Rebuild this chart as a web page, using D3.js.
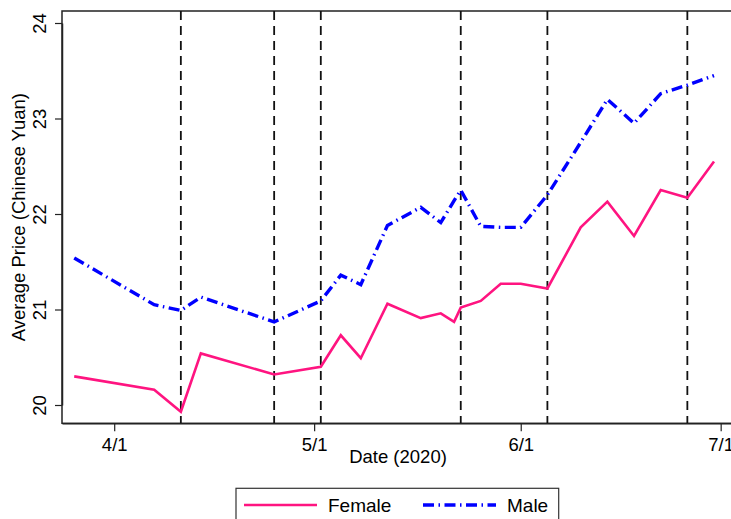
<!DOCTYPE html>
<html>
<head>
<meta charset="utf-8">
<script src="https://cdn.jsdelivr.net/npm/d3@7/dist/d3.min.js"></script>
<style>
  html, body { margin: 0; padding: 0; background: #fff; }
  svg { display: block; font-family: "Liberation Sans", Arial, Helvetica, sans-serif; }
</style>
</head>
<body>
<svg id="chart" width="731" height="519"></svg>
<script>
// Survey dates (2020) shared by both series
const dates = ["2020-03-26","2020-04-07","2020-04-11","2020-04-14","2020-04-25","2020-05-02",
  "2020-05-05","2020-05-08","2020-05-12","2020-05-17","2020-05-20","2020-05-22","2020-05-23",
  "2020-05-26","2020-05-29","2020-06-01","2020-06-05","2020-06-10","2020-06-14","2020-06-18",
  "2020-06-22","2020-06-26","2020-06-30"];

// Average price, Chinese Yuan
const female = [20.30,20.16,19.93,20.54,20.32,20.40,20.73,20.49,21.06,20.91,20.96,20.87,21.02,
  21.09,21.27,21.27,21.22,21.86,22.13,21.77,22.25,22.17,22.55];
const male = [21.54,21.05,20.99,21.13,20.87,21.09,21.36,21.26,21.88,22.07,21.91,22.14,22.25,
  21.87,21.86,21.86,22.20,22.75,23.20,22.95,23.26,23.35,23.45];

// Dates marked with vertical reference lines
const eventDates = ["2020-04-11","2020-04-25","2020-05-02","2020-05-23","2020-06-05","2020-06-26"];

// Axis ticks
const xTickDates = ["2020-04-01","2020-05-01","2020-06-01","2020-07-01"];
const xTickLabels = ["4/1","5/1","6/1","7/1"];
const yTicks = [20, 21, 22, 23, 24];

const seriesNames = ["Female", "Male"];
const seriesColors = ["#ff1480", "#0000ff"];

const parse = d3.timeParse("%Y-%m-%d");
const svg = d3.select("#chart");
const fontSize = 18.5;

const plotLeft = 62, plotRight = 734;
const x = d3.scaleTime()
  .domain([new Date(2020, 2, 24, 4), new Date(2020, 6, 3)])
  .range([plotLeft, plotRight]);
const y = d3.scaleLinear().domain([20, 24]).range([405, 23]);
const plotTop = 11, plotBottom = 423.3;

// Plot region outline
svg.append("rect")
  .attr("x", plotLeft).attr("y", plotTop)
  .attr("width", plotRight - plotLeft).attr("height", plotBottom - plotTop)
  .attr("fill", "none").attr("stroke", "#222").attr("stroke-width", 1.5);

// Vertical dashed reference lines
svg.append("g").selectAll("line")
  .data(eventDates.map(parse))
  .join("line")
  .attr("x1", d => x(d)).attr("x2", d => x(d))
  .attr("y1", plotTop).attr("y2", plotBottom)
  .attr("stroke", "#111").attr("stroke-width", 1.8)
  .attr("stroke-dasharray", "9,6");

// Series lines
const rows = dates.map((d, i) => ({ date: parse(d), female: female[i], male: male[i] }));
const line = key => d3.line().x(d => x(d.date)).y(d => y(d[key]))(rows);

svg.append("path").attr("d", line("female"))
  .attr("fill", "none").attr("stroke", seriesColors[0]).attr("stroke-width", 2.6)
  .attr("stroke-linejoin", "miter");
svg.append("path").attr("d", line("male"))
  .attr("fill", "none").attr("stroke", seriesColors[1]).attr("stroke-width", 3.4)
  .attr("stroke-dasharray", "11,4.5,1.5,4.5");

// X axis
const xAxis = svg.append("g")
  .attr("transform", `translate(0,${plotBottom})`)
  .call(d3.axisBottom(x)
    .tickValues(xTickDates.map(parse))
    .tickFormat((d, i) => xTickLabels[i])
    .tickSize(8).tickSizeOuter(0).tickPadding(7));
xAxis.select(".domain").attr("stroke", "#222").attr("stroke-width", 1.5);
xAxis.selectAll(".tick line").attr("stroke", "#222").attr("stroke-width", 1.2);
xAxis.selectAll("text").attr("font-size", fontSize).attr("fill", "#000")
  .attr("font-family", "Liberation Sans, Arial, sans-serif");

// Y axis, labels rotated
const yAxis = svg.append("g")
  .attr("transform", `translate(${plotLeft},0)`)
  .call(d3.axisLeft(y).tickValues(yTicks).tickFormat(d3.format("d"))
    .tickSize(7).tickSizeOuter(0));
yAxis.select(".domain").attr("stroke", "#222").attr("stroke-width", 1.5);
yAxis.selectAll(".tick line").attr("stroke", "#222").attr("stroke-width", 1.2);
yAxis.selectAll("text")
  .attr("font-size", fontSize).attr("fill", "#000")
  .attr("font-family", "Liberation Sans, Arial, sans-serif")
  .attr("x", null).attr("dy", null)
  .attr("text-anchor", "middle")
  .attr("transform", "translate(-16,0) rotate(-90)");

// Axis titles
svg.append("text")
  .attr("x", (plotLeft + plotRight) / 2).attr("y", 463)
  .attr("text-anchor", "middle").attr("font-size", fontSize).text("Date (2020)");
svg.append("text")
  .attr("transform", `translate(25,${(plotTop + plotBottom) / 2}) rotate(-90)`)
  .attr("text-anchor", "middle").attr("font-size", fontSize).text("Average Price (Chinese Yuan)");

// Legend
const legend = svg.append("g");
legend.append("rect")
  .attr("x", 236).attr("y", 488.3).attr("width", 322.7).attr("height", 60)
  .attr("fill", "#fff").attr("stroke", "#333").attr("stroke-width", 1.2);
const legendItems = [
  { name: seriesNames[0], color: seriesColors[0], x0: 244, x1: 317, tx: 328, dash: null, w: 2.6 },
  { name: seriesNames[1], color: seriesColors[1], x0: 423, x1: 496, tx: 507, dash: "11,4.5,1.5,4.5", w: 3.4 }
];
legendItems.forEach(it => {
  legend.append("line")
    .attr("x1", it.x0).attr("x2", it.x1).attr("y1", 505).attr("y2", 505)
    .attr("stroke", it.color).attr("stroke-width", it.w)
    .attr("stroke-dasharray", it.dash);
  legend.append("text")
    .attr("x", it.tx).attr("y", 512).attr("font-size", 19).text(it.name);
});
</script>
</body>
</html>
